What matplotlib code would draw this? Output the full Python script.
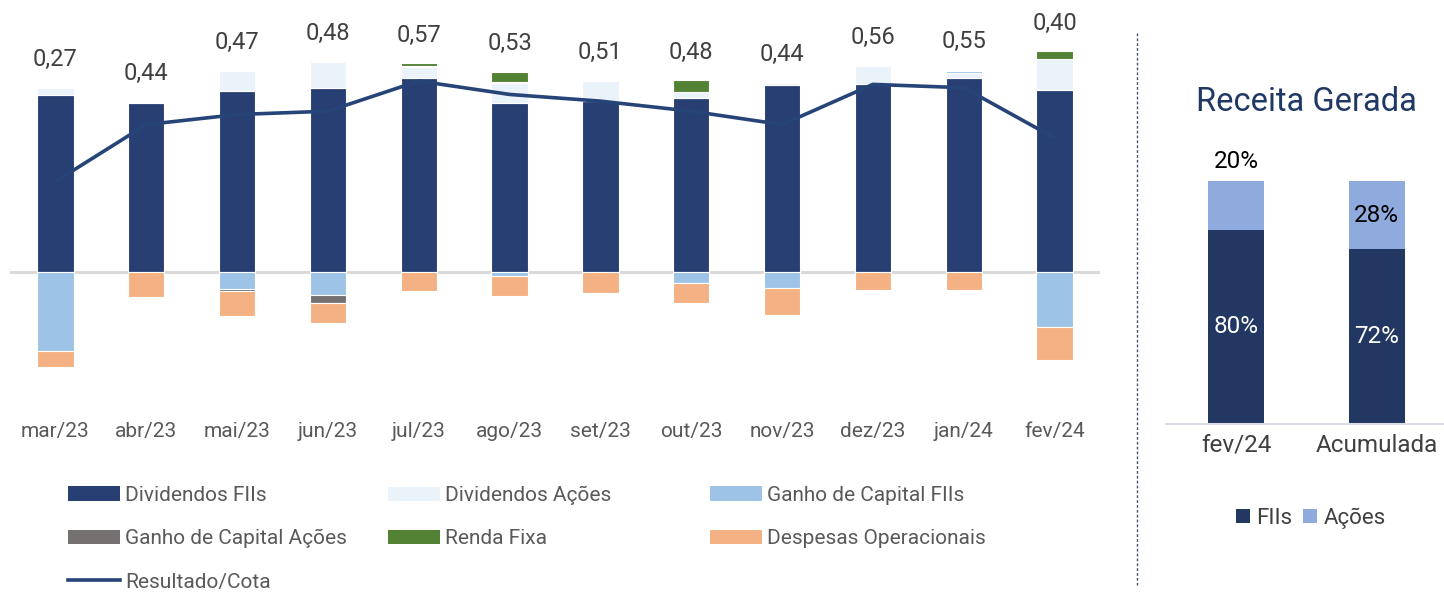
import matplotlib.pyplot as plt
from matplotlib.patches import Patch
from matplotlib.lines import Line2D
import numpy as np

plt.rcParams['font.family'] = ['Roboto', 'DejaVu Sans']

# Left panel data (R$/cota)
months = ['mar/23', 'abr/23', 'mai/23', 'jun/23', 'jul/23', 'ago/23',
          'set/23', 'out/23', 'nov/23', 'dez/23', 'jan/24', 'fev/24']
div_fiis = [0.528, 0.505, 0.540, 0.550, 0.578, 0.505, 0.510, 0.520, 0.558, 0.562, 0.578, 0.542]
div_acoes = [0.020, 0.003, 0.059, 0.077, 0.033, 0.058, 0.059, 0.017, 0.006, 0.052, 0.016, 0.095]
ganho_fiis = [-0.237, 0.0, -0.052, -0.070, 0.0, -0.013, 0.0, -0.033, -0.048, 0.0, 0.005, -0.165]
ganho_acoes = [0.0, 0.0, -0.006, -0.022, 0.004, 0.005, 0.0, 0.0, 0.0, 0.0, 0.003, 0.0]
renda_fixa = [0.004, 0.003, 0.002, 0.003, 0.008, 0.030, 0.004, 0.035, 0.003, 0.003, 0.003, 0.022]
despesas = [-0.048, -0.074, -0.073, -0.061, -0.058, -0.059, -0.064, -0.059, -0.079, -0.054, -0.054, -0.099]
resultado = [0.27, 0.44, 0.47, 0.48, 0.57, 0.53, 0.51, 0.48, 0.44, 0.56, 0.55, 0.40]

# Right panel data (%)
receita_cats = ['fev/24', 'Acumulada']
receita_fiis = [80, 72]
receita_acoes = [20, 28]

series = [
    ('Dividendos FIIs', div_fiis, '#283F73'),
    ('Dividendos Ações', div_acoes, '#EAF2FA'),
    ('Ganho de Capital FIIs', ganho_fiis, '#9DC3E6'),
    ('Ganho de Capital Ações', ganho_acoes, '#767171'),
    ('Renda Fixa', renda_fixa, '#548235'),
    ('Despesas Operacionais', despesas, '#F4B183'),
]
line_color = '#264478'

W, H = 1444, 594
fig = plt.figure(figsize=(W / 100, H / 100), dpi=100)

def fig_rect(x0, y0, x1, y1):
    return [x0 / W, 1 - y1 / H, (x1 - x0) / W, (y1 - y0) / H]

# ---- left chart
ax = fig.add_axes(fig_rect(10, 10, 1100, 400))
x = np.arange(len(months))
pos = np.zeros(len(months))
neg = np.zeros(len(months))
handles = {}
for name, vals, color in series:
    v = np.array(vals)
    bottom = np.where(v >= 0, pos, neg)
    ax.bar(x, v, 0.4, bottom=bottom, color=color, edgecolor='white', linewidth=0.8, zorder=2)
    handles[name] = Patch(facecolor=color, edgecolor='none')
    pos = pos + np.where(v >= 0, v, 0)
    neg = neg + np.where(v < 0, v, 0)

ax.axhline(0, color='#D9D9D9', lw=2.2, zorder=1)
ax.plot(x, resultado, color=line_color, lw=2.6, zorder=3, solid_capstyle='butt')
handles['Resultado/Cota'] = Line2D([], [], color=line_color, lw=2.6)

for xi, top, r in zip(x, pos, resultado):
    ax.annotate(f'{r:.2f}'.replace('.', ','), (xi, top), xytext=(0, 20),
                textcoords='offset points', ha='center', va='center',
                fontsize=17, color='#404040')

ax.set_xlim(-0.5, 11.5)
ax.set_ylim(-0.382, 0.782)
ax.set_xticks(x)
ax.set_xticklabels(months, fontsize=15, color='#595959')
ax.tick_params(axis='x', length=0, pad=16)
ax.set_yticks([])
for s in ax.spines.values():
    s.set_visible(False)

# legend in three columns
cols = [
    (68, ['Dividendos FIIs', 'Ganho de Capital Ações', 'Resultado/Cota']),
    (388, ['Dividendos Ações', 'Renda Fixa']),
    (710, ['Ganho de Capital FIIs', 'Despesas Operacionais']),
]
for xpos, names in cols:
    fig.legend([handles[n] for n in names], names, loc='upper left',
               bbox_to_anchor=(xpos / W, 1 - 486 / H), frameon=False,
               handlelength=2.5, handletextpad=0.25,
               labelspacing=1.16, borderpad=0, borderaxespad=0,
               labelcolor='#595959', prop={'size': 15})

# separator
fig.add_artist(Line2D([1137 / W] * 2, [1 - 33 / H, 1 - 585 / H], transform=fig.transFigure,
                      color='#44546A', lw=1, ls=(0, (2, 1.5))))

# ---- right chart
ax2 = fig.add_axes(fig_rect(1166, 140, 1444, 424))
x2 = np.arange(len(receita_cats))
ax2.bar(x2, receita_fiis, 0.4, color='#223761', zorder=2)
ax2.bar(x2, receita_acoes, 0.4, bottom=receita_fiis, color='#8FAADC', zorder=2)
ax2.set_xlim(-0.5, 1.48)
ax2.set_ylim(0, 116.9)
for xi, f, a in zip(x2, receita_fiis, receita_acoes):
    ax2.text(xi, f / 2, f'{f}%', ha='center', va='center', color='white', fontsize=17.5)
    if a < 25:
        ax2.text(xi, 100 + 8, f'{a}%', ha='center', va='center', color='black', fontsize=17.5)
    else:
        ax2.text(xi, f + a / 2, f'{a}%', ha='center', va='center', color='black', fontsize=17.5)
ax2.set_xticks(x2)
ax2.set_xticklabels(receita_cats, fontsize=17.5, color='#404040')
ax2.tick_params(axis='x', length=0, pad=7)
ax2.set_yticks([])
for k, s in ax2.spines.items():
    s.set_visible(k == 'bottom')
ax2.spines['bottom'].set_color('#D9DEE6')
ax2.spines['bottom'].set_linewidth(1.5)

fig.text(1306 / W, 1 - 102 / H, 'Receita Gerada', ha='center', va='center',
         fontsize=23.5, color='#1F3864')
fig.legend([Patch(facecolor='#223761'), Patch(facecolor='#8FAADC')], ['FIIs', 'Ações'],
           loc='center', bbox_to_anchor=(1311 / W, 1 - 518 / H), ncol=2, frameon=False,
           prop={'size': 16}, handlelength=0.6, handleheight=0.6, handletextpad=0.3,
           columnspacing=0.5, labelcolor='#404040')

fig.savefig('out.png', dpi=100)
